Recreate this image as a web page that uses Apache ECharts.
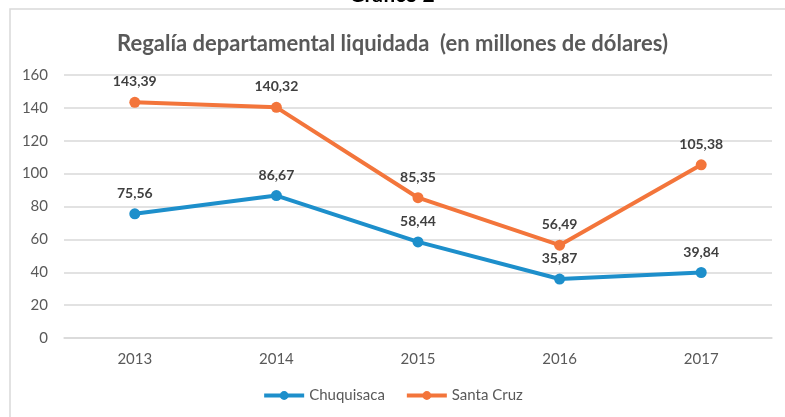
<!DOCTYPE html>
<html><head><meta charset="utf-8">
<script src="https://cdn.jsdelivr.net/npm/echarts@6/dist/echarts.min.js"></script>
<style>html,body{margin:0;padding:0;background:#fff}#c{width:785px;height:417px}</style>
</head><body><div id="c"></div>
<script>
const categories = ['2013','2014','2015','2016','2017'];
const chuquisaca = [75.56, 86.67, 58.44, 35.87, 39.84];
const santaCruz = [143.39, 140.32, 85.35, 56.49, 105.38];
const seriesNames = ['Chuquisaca','Santa Cruz'];
const titleText = 'Regalía departamental liquidada  (en millones de dólares)';
const headText = 'Gráfico 2';

const FONT = 'Lato, "Open Sans", sans-serif';
const chart = echarts.init(document.getElementById('c'), null, {renderer:'canvas'});
const fmt = p => p.value.toFixed(2).replace('.', ',');
const lbl = {show:true, position:'top', distance:8, formatter:fmt, color:'#404040', fontWeight:'bold', fontSize:14, fontFamily:FONT};
chart.setOption({
  animation:false,
  backgroundColor:'#fff',
  title:{text:titleText, left:'center', top:28, textStyle:{fontFamily:FONT, fontSize:22, fontWeight:'bold', color:'#595959'}},
  graphic:[
    {type:'rect', shape:{x:10, y:9, width:790, height:430}, style:{fill:'none', stroke:'#d9d9d9', lineWidth:1.5}, silent:true},
    {type:'text', x:392, y:6, style:{text:headText, fill:'#000', font:'bold 21px ' + FONT, align:'center', verticalAlign:'bottom'}, silent:true}
  ],
  legend:{bottom:9, left:'center', itemWidth:40, itemHeight:11, itemGap:20, lineStyle:{width:4}, textStyle:{color:'#595959', fontSize:15, fontFamily:FONT}, data:seriesNames},
  grid:{left:64, right:13, top:75, bottom:79, containLabel:false},
  xAxis:{type:'category', data:categories, boundaryGap:true,
    axisLine:{show:true, lineStyle:{color:'#d9d9d9', width:1.5}}, axisTick:{show:false},
    axisLabel:{color:'#595959', fontSize:15, fontFamily:FONT, margin:14}},
  yAxis:{type:'value', min:0, max:160, interval:20,
    axisLine:{show:false}, axisTick:{show:false},
    splitLine:{lineStyle:{color:'#d9d9d9', width:1.5}},
    axisLabel:{color:'#595959', fontSize:15, fontFamily:FONT, margin:16}},
  series:[
    {name:seriesNames[0], type:'line', data:chuquisaca, color:'#1d8fcb', lineStyle:{width:4}, symbol:'circle', symbolSize:11, label:lbl},
    {name:seriesNames[1], type:'line', data:santaCruz, color:'#f3753b', lineStyle:{width:4}, symbol:'circle', symbolSize:11, label:lbl}
  ]
});
</script></body></html>
